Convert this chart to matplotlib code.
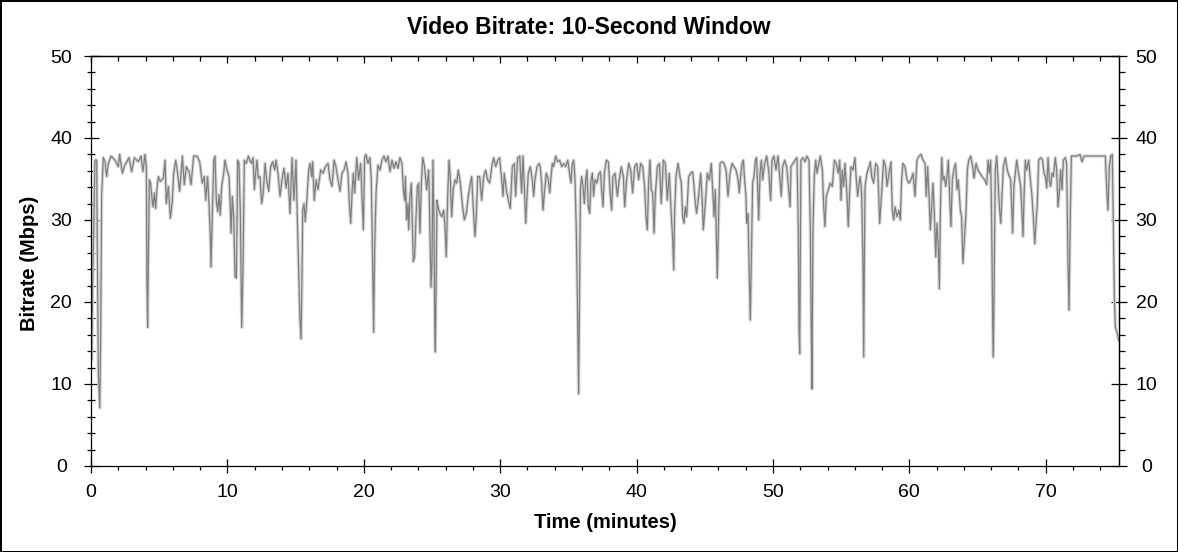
import matplotlib
matplotlib.use('Agg')
import matplotlib.pyplot as plt
from matplotlib.ticker import MultipleLocator
import matplotlib.patheffects as pe

plt.rcParams['font.family'] = ['Liberation Sans', 'DejaVu Sans']

# Time (minutes) and video bitrate (Mbps)
times = [
    0.05, 0.12, 0.29, 0.42, 0.44, 0.54, 0.64, 0.71, 0.78, 0.90, 1.03, 1.15, 1.27, 1.47, 1.76,
    2.00, 2.10, 2.30, 2.49, 2.79, 2.98, 3.18, 3.47, 3.67, 3.81, 3.96, 4.06, 4.10, 4.15, 4.20,
    4.28, 4.37, 4.45, 4.55, 4.64, 4.74, 4.84, 4.94, 5.08, 5.30, 5.43, 5.52, 5.67, 5.82, 5.96,
    6.06, 6.21, 6.35, 6.50, 6.70, 6.84, 6.99, 7.19, 7.33, 7.53, 7.77, 7.97, 8.16, 8.31, 8.41,
    8.55, 8.65, 8.75, 8.80, 8.90, 9.00, 9.09, 9.19, 9.29, 9.38, 9.48, 9.58, 9.73, 9.82, 9.97,
    10.12, 10.22, 10.27, 10.36, 10.46, 10.56, 10.66, 10.75, 10.85, 10.95, 11.05, 11.14, 11.24,
    11.39, 11.54, 11.63, 11.78, 11.88, 11.98, 12.07, 12.17, 12.27,
    12.39, 12.51, 12.63, 12.76, 12.88, 13.03, 13.17, 13.32, 13.47, 13.56, 13.71, 13.86, 14.00,
    14.15, 14.30, 14.44, 14.59, 14.74, 14.88, 15.03, 15.13, 15.23, 15.32, 15.40, 15.47, 15.52,
    15.62, 15.71, 15.81, 15.96, 16.06, 16.18, 16.25, 16.37, 16.50, 16.64, 16.84, 17.03, 17.18,
    17.38, 17.52, 17.67, 17.82, 17.96, 18.11, 18.26, 18.40, 18.55, 18.70, 18.84, 18.94, 19.04,
    19.14, 19.23, 19.33, 19.48, 19.62, 19.77, 19.87, 19.97, 20.06, 20.16, 20.31, 20.45, 20.55,
    20.65, 20.72, 20.80, 20.90, 21.04, 21.19, 21.33, 21.48, 21.63, 21.77, 21.92, 22.07, 22.21,
    22.36, 22.51, 22.65, 22.80, 22.90, 23.00, 23.05, 23.14, 23.24, 23.29, 23.39, 23.49, 23.58,
    23.63, 23.73, 23.83, 23.93, 24.02, 24.12, 24.22, 24.32, 24.46, 24.61, 24.76, 24.85, 24.93,
    25.00, 25.07, 25.15, 25.20, 25.25, 25.29, 25.37, 25.44, 25.59,
    25.71, 25.86, 25.95, 26.05, 26.15, 26.25, 26.34, 26.44, 26.56, 26.69, 26.81, 26.93, 27.08,
    27.22, 27.37, 27.52, 27.66, 27.81, 27.91, 28.01, 28.15, 28.25, 28.35, 28.50, 28.64, 28.79,
    28.93, 29.08, 29.23, 29.38, 29.52, 29.67, 29.82, 29.96, 30.11, 30.21, 30.30, 30.45, 30.60,
    30.74, 30.89, 31.04, 31.13, 31.28, 31.43, 31.57, 31.67, 31.77, 31.87, 31.97, 32.06, 32.21,
    32.36, 32.45, 32.55, 32.70, 32.85, 32.94, 33.04, 33.14, 33.24, 33.38, 33.53, 33.63, 33.73,
    33.82, 33.92, 34.07, 34.21, 34.36, 34.51, 34.65, 34.80, 34.95, 35.09, 35.19, 35.29, 35.39,
    35.48, 35.58, 35.68, 35.75, 35.83, 35.88, 35.97, 36.07, 36.17, 36.27, 36.36, 36.46, 36.56,
    36.66, 36.76, 36.85, 36.95, 37.10, 37.20, 37.34, 37.44, 37.54, 37.64, 37.78, 37.93, 38.08,
    38.17, 38.27, 38.42,
    38.59, 38.73, 38.88, 39.03, 39.13, 39.27, 39.42, 39.57, 39.71, 39.86, 40.01, 40.15, 40.30,
    40.45, 40.59, 40.69, 40.79, 40.89, 40.98, 41.08, 41.18, 41.28, 41.37, 41.52, 41.67, 41.81,
    41.96, 42.11, 42.25, 42.40, 42.55, 42.65, 42.72, 42.79, 42.89, 43.04, 43.18, 43.28, 43.38,
    43.48, 43.57, 43.67, 43.82, 43.97, 44.11, 44.21, 44.31, 44.40, 44.55, 44.70, 44.80, 44.89,
    45.04, 45.19, 45.33, 45.48, 45.58, 45.68, 45.77, 45.87, 45.92, 46.02, 46.12, 46.26, 46.41,
    46.56, 46.70, 46.85, 47.00, 47.14, 47.29, 47.44, 47.53, 47.63, 47.73, 47.83, 47.92, 48.02,
    48.07, 48.17, 48.27, 48.34, 48.41, 48.51, 48.61, 48.71, 48.80, 48.90, 48.95, 49.05, 49.15,
    49.24, 49.39, 49.54, 49.68, 49.83, 49.93, 50.07, 50.22, 50.37, 50.51, 50.61, 50.71, 50.86,
    51.00, 51.15, 51.25,
    51.32, 51.47, 51.61, 51.76, 51.86, 51.91, 51.96, 52.00, 52.05, 52.20, 52.35, 52.49, 52.64,
    52.74, 52.81, 52.86, 52.93, 53.03, 53.13, 53.23, 53.32, 53.47, 53.62, 53.72, 53.81, 53.91,
    54.06, 54.20, 54.35, 54.50, 54.64, 54.79, 54.89, 54.99, 55.08, 55.18, 55.28, 55.43, 55.52,
    55.62, 55.72, 55.87, 56.01, 56.11, 56.21, 56.31, 56.40, 56.50, 56.60, 56.65, 56.70, 56.75,
    56.89, 57.04, 57.14, 57.24, 57.38, 57.53, 57.68, 57.82, 57.97, 58.11, 58.26, 58.36, 58.51,
    58.65, 58.75, 58.85, 58.95, 59.09, 59.24, 59.34, 59.43, 59.53, 59.68, 59.83, 59.97, 60.12,
    60.27, 60.41, 60.56, 60.71, 60.85, 61.00, 61.15, 61.24, 61.34, 61.44, 61.54, 61.63, 61.73,
    61.83, 61.93, 62.02, 62.12, 62.20, 62.27, 62.37, 62.46, 62.56, 62.66, 62.76, 62.86, 62.95,
    63.05, 63.15, 63.30, 63.39, 63.49, 63.59, 63.74, 63.83, 63.93, 64.08,
    64.15, 64.25, 64.35, 64.50, 64.64, 64.74, 64.89, 65.03, 65.18, 65.33, 65.52, 65.67, 65.77,
    65.86, 65.96, 66.04, 66.11, 66.16, 66.23, 66.30, 66.40, 66.50, 66.60, 66.70, 66.79, 66.89,
    67.04, 67.18, 67.33, 67.43, 67.53, 67.57, 67.67, 67.77, 67.87, 68.01, 68.16, 68.26, 68.33,
    68.41, 68.50, 68.60, 68.75, 68.85, 68.99, 69.09, 69.19, 69.29, 69.38, 69.48, 69.63, 69.77,
    69.87, 69.97, 70.07, 70.17, 70.26, 70.36, 70.46, 70.56, 70.70, 70.80, 70.90, 70.99, 71.09,
    71.19, 71.29, 71.44, 71.53, 71.63, 71.71, 71.78, 71.88, 72.27, 72.51, 72.66, 72.81, 73.25,
    73.73, 74.22, 74.37, 74.47, 74.56, 74.66, 74.76, 74.88, 74.96, 75.03, 75.10, 75.25, 75.35,
]

bitrate = [
    13.0, 22.0, 37.3, 37.3, 31.6, 11.2, 7.1, 15.7, 32.9, 37.6, 37.1, 35.3, 36.9, 37.8, 37.3,
    36.5, 38.0, 35.7, 36.7, 37.6, 35.9, 37.6, 37.1, 37.8, 35.9, 38.0, 36.5, 22.7, 16.9, 24.7,
    34.9, 34.5, 32.9, 31.6, 33.3, 31.4, 33.9, 35.3, 34.7, 35.1, 37.3, 32.0, 34.1, 30.2, 32.2,
    35.7, 37.3, 35.7, 33.5, 37.8, 34.3, 36.5, 35.9, 34.3, 37.8, 37.8, 37.1, 34.5, 35.3, 32.4,
    35.3, 32.0, 28.0, 24.3, 30.8, 37.3, 37.8, 32.4, 31.0, 33.1, 30.6, 34.1, 35.7, 37.3, 36.1,
    35.3, 31.2, 28.4, 32.9, 30.4, 23.1, 22.9, 37.3, 36.9, 30.8, 16.9, 23.5, 37.3,
    36.9, 37.8, 37.3, 36.9, 37.6, 33.7, 35.7, 37.3, 35.1,
    35.3, 32.0, 33.3, 36.9, 34.9, 33.5, 36.5, 37.1, 36.1, 37.3, 35.7, 32.9, 34.9,
    36.3, 33.9, 35.7, 30.8, 37.6, 32.4, 37.3, 30.0, 23.5, 17.8, 15.5, 22.7, 31.2,
    32.0, 29.8, 32.0, 36.1, 36.9, 35.3, 37.1, 32.4, 34.9, 33.7, 36.1, 35.7, 36.5,
    36.9, 34.9, 34.1, 37.3, 36.5, 34.9, 33.5, 35.7, 36.1, 37.1, 35.7, 32.0, 29.6,
    33.3, 35.7, 33.3, 37.6, 34.9, 36.9, 32.9, 28.8, 37.6, 38.0, 36.9, 37.6, 34.9,
    24.7, 16.3, 26.7, 33.3, 36.7, 36.1, 37.3, 37.8, 37.1, 37.8, 35.9, 37.3, 36.3,
    37.1, 36.3, 37.6, 36.9, 33.7, 32.4, 35.3, 30.0, 32.0, 28.8, 32.9, 34.5, 28.0,
    24.9, 25.5, 30.4, 34.1, 34.5, 28.4, 34.5, 37.6, 36.5, 33.7, 36.1, 28.8, 21.8,
    24.7, 37.3, 28.8, 17.3, 13.9, 20.6, 32.4, 31.6, 30.8,
    30.4, 31.2, 29.2, 25.5, 32.9, 37.3, 35.3, 30.4, 33.7, 34.9, 34.5, 36.1, 34.5,
    32.0, 30.0, 30.8, 32.9, 34.5, 35.3, 32.0, 28.0, 30.4, 35.3, 35.3, 32.4, 35.3,
    36.1, 34.9, 34.5, 36.5, 37.6, 36.5, 37.3, 37.6, 34.9, 32.9, 35.7, 33.7, 32.4,
    31.4, 36.5, 36.9, 32.9, 37.6, 37.8, 33.3, 37.8, 34.1, 29.6, 32.9, 35.7, 36.5,
    34.9, 32.9, 34.9, 36.5, 36.9, 36.5, 34.5, 31.2, 33.3, 35.7, 34.9, 33.3, 35.3,
    36.9, 36.5, 37.8, 37.1, 37.3, 36.5, 36.9, 36.5, 37.3, 35.7, 34.5, 36.9, 37.3,
    35.3, 28.8, 18.2, 8.8, 22.7, 33.7, 35.3, 34.1, 32.0, 34.9, 36.1, 31.6, 30.8,
    34.9, 35.7, 32.9, 34.9, 34.5, 35.5, 35.9, 33.7, 31.6, 35.7, 37.3, 37.1, 32.9,
    31.2, 35.3, 35.7,
    32.9, 34.9, 36.5, 35.3, 31.6, 34.9, 36.9, 36.1, 33.3, 36.5, 36.9, 34.9, 36.9,
    36.5, 34.1, 30.4, 28.8, 34.9, 37.3, 33.7, 33.3, 28.4, 32.9, 36.5, 36.9, 32.0,
    37.3, 36.9, 32.4, 35.7, 30.4, 27.6, 23.9, 30.8, 35.3, 36.9, 35.3, 34.5, 30.4,
    29.6, 31.6, 30.4, 35.3, 35.7, 35.9, 34.1, 32.0, 30.8, 32.9, 35.7, 32.9, 28.8,
    32.0, 35.7, 34.9, 36.9, 33.7, 30.4, 33.7, 26.7, 22.9, 30.8, 36.9, 37.1, 36.9,
    36.1, 32.9, 35.7, 36.9, 36.5, 36.1, 34.9, 33.3, 35.3, 36.9, 37.3, 34.9, 32.9,
    29.6, 30.8, 22.7, 17.8, 24.7, 34.5, 35.3, 37.3, 37.6, 32.9, 30.0, 35.7, 37.3,
    34.9, 36.9, 37.8, 36.1, 32.4, 37.3, 37.8, 36.1, 37.8, 34.9, 32.9, 36.5, 37.3,
    36.5, 33.7, 31.6,
    36.5, 36.9, 37.3, 37.6, 28.8, 16.5, 13.7, 24.7, 37.3, 37.6, 37.1, 37.8, 37.3,
    28.8, 16.5, 9.4, 28.8, 35.3, 37.3, 35.7, 36.5, 37.8, 36.1, 31.6, 29.2, 32.9,
    33.7, 34.5, 34.1, 37.3, 36.9, 35.7, 37.3, 32.4, 36.1, 34.1, 36.9, 32.9, 29.2,
    33.3, 36.5, 36.1, 37.6, 34.9, 32.9, 34.5, 35.3, 33.3, 24.7, 13.3, 24.7, 34.1,
    35.7, 36.5, 37.1, 35.3, 34.5, 36.9, 36.5, 29.6, 33.3, 37.3, 36.5, 34.1, 35.7,
    37.1, 31.2, 30.0, 31.6, 30.4, 31.2, 30.0, 34.9, 36.9, 36.5, 34.9, 34.5, 34.9,
    35.7, 32.9, 37.3, 37.8, 38.0, 37.3, 36.9, 32.9, 36.5, 32.9, 28.8, 31.6, 34.5,
    30.8, 25.5, 29.6, 26.7, 21.6, 30.8, 37.6, 34.9, 35.3, 34.1, 35.3, 37.3, 32.9,
    29.2, 34.9, 36.5, 36.9, 33.7, 34.9, 31.2, 30.4, 24.7, 28.8,
    30.8, 36.1, 37.3, 37.8, 36.5, 35.1, 36.9, 36.1, 35.7, 35.3, 34.9, 34.3, 37.3,
    35.7, 37.3, 28.8, 17.3, 13.3, 24.7, 36.1, 37.8, 34.9, 31.6, 29.6, 32.9, 36.5,
    37.6, 36.1, 35.3, 34.9, 30.4, 28.4, 34.1, 35.7, 37.3, 35.7, 34.1, 30.8, 28.0,
    32.9, 37.3, 36.1, 37.3, 35.3, 32.9, 30.4, 27.1, 29.6, 32.0, 37.3, 37.6, 37.3,
    35.7, 35.3, 33.9, 37.6, 34.9, 34.1, 35.7, 35.3, 37.6, 36.1, 31.6, 33.3, 36.1,
    33.7, 37.3, 37.6, 36.9, 24.7, 19.0, 28.8, 37.8, 37.8, 38.0, 37.1, 37.8, 37.8,
    37.8, 37.8, 37.8, 33.7, 31.2, 36.5, 37.8, 38.0, 28.8, 20.6, 16.9, 16.1, 15.3,
]

y_ticks = [0, 10, 20, 30, 40, 50]
x_ticks = [0, 10, 20, 30, 40, 50, 60, 70]

fig = plt.figure(figsize=(11.78, 5.52), dpi=100)
fig.patch.set_edgecolor('black')
fig.patch.set_linewidth(2)

ax = fig.add_axes([91 / 1178, 1 - 466 / 552, 1028 / 1178, 410 / 552])

ax.plot(times, bitrate, color='#808080', lw=0.9,
        path_effects=[pe.withStroke(linewidth=2.4, foreground='#d6d6d6')])

ax.set_xlim(0, 75.37)
ax.set_ylim(0, 50)

for sp in ax.spines.values():
    sp.set_linewidth(0.9)

# left / bottom ticks
ax.set_xticks(x_ticks)
ax.xaxis.set_minor_locator(MultipleLocator(2))
ax.set_yticks(y_ticks)
ax.yaxis.set_minor_locator(MultipleLocator(2))
ax.tick_params(axis='y', which='major', direction='inout', length=10.8, width=0.9,
               pad=16, labelsize=14)
ax.tick_params(axis='y', which='minor', direction='inout', length=5.8, width=0.9)
ax.tick_params(axis='x', which='major', direction='inout', length=10, width=0.9,
               pad=8, labelsize=14)
ax.tick_params(axis='x', which='minor', direction='out', length=3.2, width=0.9)
for lab in ax.get_yticklabels():
    lab.set_horizontalalignment('center')

# right axis with labels
ax_r = ax.secondary_yaxis('right')
ax_r.set_yticks(y_ticks)
ax_r.yaxis.set_minor_locator(MultipleLocator(2))
ax_r.tick_params(axis='y', which='major', direction='inout', length=11.5, width=0.9,
                 pad=14, labelsize=14)
ax_r.tick_params(axis='y', which='minor', direction='out', length=4, width=0.9)
ax_r.spines['right'].set_linewidth(0.9)
for lab in ax_r.get_yticklabels():
    lab.set_horizontalalignment('center')

# top axis, ticks only
ax_t = ax.secondary_xaxis('top')
ax_t.set_xticks(x_ticks)
ax_t.xaxis.set_minor_locator(MultipleLocator(2))
ax_t.tick_params(axis='x', which='major', direction='in', length=5, width=0.9, labeltop=False)
ax_t.tick_params(axis='x', which='minor', direction='in', length=3.6, width=0.9)
ax_t.spines['top'].set_linewidth(0.9)

ax.set_xlabel('Time (minutes)', fontsize=14.5, fontweight='bold')
ax.xaxis.label.set_verticalalignment('center')
ax.xaxis.set_label_coords(0.5, (466 - 523) / 410)
ax.set_ylabel('Bitrate (Mbps)', fontsize=14.5, fontweight='bold')
ax.yaxis.label.set_verticalalignment('center')
ax.yaxis.set_label_coords((30 - 91) / 1028, (466 - 263) / 410)

fig.text(0.5, 1 - 27 / 552, 'Video Bitrate: 10-Second Window', ha='center', va='center',
         fontsize=16.5, fontweight='bold')

plt.savefig('out.png', dpi=100, edgecolor='black')
plt.close()
